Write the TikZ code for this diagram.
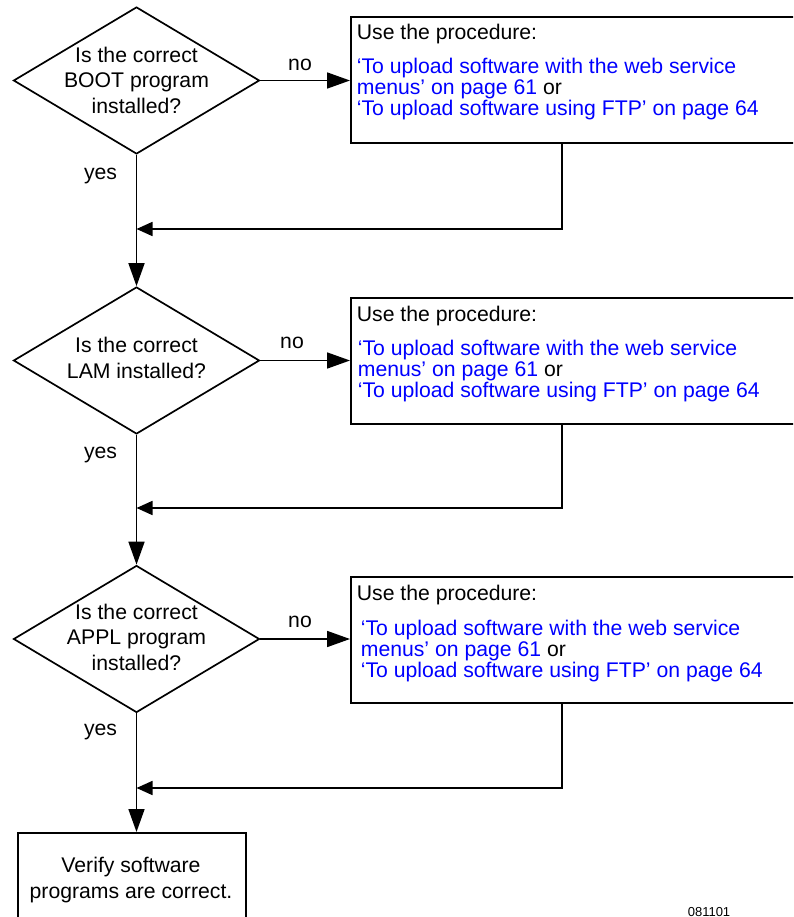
\documentclass[tikz,border=0pt]{standalone}
\usepackage{fontspec}
\setmainfont{Liberation Sans}
\usetikzlibrary{shapes.geometric,arrows.meta}
\definecolor{linkblue}{RGB}{0,0,255}
\begin{document}
\begin{tikzpicture}[x=1pt,y=-1pt,line width=1.7pt,
  decision/.style={draw,diamond,minimum width=246pt,minimum height=147pt,inner sep=0pt},
  procbox/.style={draw,rectangle,anchor=north west,minimum width=470pt,minimum height=126pt,inner sep=0pt},
  endbox/.style={draw,rectangle,anchor=north west,minimum width=228pt,minimum height=130pt,inner sep=0pt},
  ctext/.style={inner sep=0pt,align=center,font=\fontsize{21.2}{25.5}\selectfont},
  lbl/.style={inner sep=0pt,anchor=base,font=\fontsize{21.2}{25}\selectfont},
  ln/.style={inner sep=0pt,anchor=base west,font=\fontsize{21.2}{21}\selectfont},
  link/.style={ln,text=linkblue},
  bigarrow/.style={-{Triangle[length=23pt,width=16pt]}},
  joinarrow/.style={-{Triangle[length=16pt,width=14pt]}},
]
\useasboundingbox (0,0) rectangle (793,917);
\clip (0,0) rectangle (793,917);

% ---- decisions ----
\node[decision] (d1) at (136.5,80.5) {};
\node[ctext] (d1t) at (136.5,80) {Is the correct\\BOOT program\\installed?};
\node[decision] (d2) at (136.5,360.5) {};
\node[ctext] (d2t) at (136.5,358) {Is the correct\\LAM installed?};
\node[decision] (d3) at (136.5,639) {};
\node[ctext] (d3t) at (136.5,637) {Is the correct\\APPL program\\installed?};

% ---- procedure boxes ----
\node[procbox] (b1) at (350,16) {};
\node[ln] (b1a) at (356,40) {Use the procedure:};
\node[link] (b1b) at (356,74) {‘To upload software with the web service};
\node[ln] (b1c) at (356,95) {{\color{linkblue}menus’ on page 61} or};
\node[link] (b1d) at (356,116) {‘To upload software using FTP’ on page 64};

\node[procbox] (b2) at (350,297) {};
\node[ln] (b2a) at (356,321) {Use the procedure:};
\node[link] (b2b) at (357,355) {‘To upload software with the web service};
\node[ln] (b2c) at (357,376) {{\color{linkblue}menus’ on page 61} or};
\node[link] (b2d) at (357,397) {‘To upload software using FTP’ on page 64};

\node[procbox] (b3) at (350,576) {};
\node[ln] (b3a) at (356,600) {Use the procedure:};
\node[link] (b3b) at (360,635) {‘To upload software with the web service};
\node[ln] (b3c) at (360,656) {{\color{linkblue}menus’ on page 61} or};
\node[link] (b3d) at (360,677) {‘To upload software using FTP’ on page 64};

% ---- final step ----
\node[endbox] (v) at (17,832) {};
\node[ctext,anchor=base] (vt) at (131,872) {Verify software};
\node[ctext,anchor=base] (vt2) at (131,898) {programs are correct.};

% ---- branch labels ----
\node[lbl] (n1) at (300,71) {no};
\node[lbl] (n2) at (292,348) {no};
\node[lbl] (n3) at (300,627) {no};
\node[lbl] (y1) at (100.5,180) {yes};
\node[lbl] (y2) at (100.5,458) {yes};
\node[lbl] (y3) at (100.5,735) {yes};

\node[inner sep=0pt,anchor=base,font=\fontsize{13}{13}\selectfont] (fig) at (709,916) {081101};

% ---- join points on the main line ----
\coordinate (j1) at (136.5,229);
\coordinate (j2) at (136.5,508);
\coordinate (j3) at (136.5,788);

% ---- connectors ----
\draw[bigarrow] (d1.east) -- (d1.east -| b1.west);
\draw[bigarrow] (d2.east) -- (d2.east -| b2.west);
\draw[bigarrow] (d3.east) -- (d3.east -| b3.west);

\draw[joinarrow] ([xshift=212pt]b1.south west) |- (j1);
\draw[joinarrow] ([xshift=212pt]b2.south west) |- (j2);
\draw[joinarrow] ([xshift=212pt]b3.south west) |- (j3);

\draw[bigarrow] (d1.south) -- (d2.north);
\draw[bigarrow] (d2.south) -- (d3.north);
\draw[bigarrow] (d3.south) -- (d3.south |- v.north);
\end{tikzpicture}
\end{document}
